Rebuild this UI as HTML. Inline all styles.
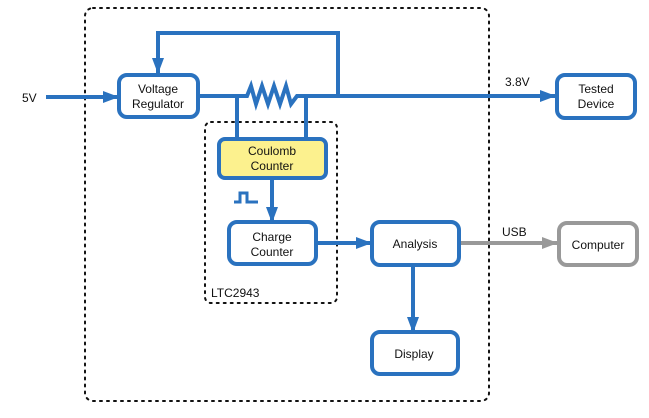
<!DOCTYPE html>
<html><head><style>body{margin:0;background:#fff}svg{display:block}text{font-family:"Liberation Sans",sans-serif;font-size:12px;fill:#111}</style></head><body>
<svg width="649" height="418" viewBox="0 0 649 418" xmlns="http://www.w3.org/2000/svg">
<defs>
<marker id="a" markerWidth="8" markerHeight="8" refX="7" refY="4" orient="auto" markerUnits="userSpaceOnUse"><path d="M0,0 L8,4 L0,8 z" fill="#2a72bf"/></marker>
<marker id="ab" markerWidth="16" markerHeight="12" refX="15" refY="6" orient="auto" markerUnits="userSpaceOnUse"><path d="M0,0 L16,6 L0,12 z" fill="#2a72bf"/></marker>
<marker id="ag" markerWidth="16" markerHeight="12" refX="15" refY="6" orient="auto" markerUnits="userSpaceOnUse"><path d="M0,0 L16,6 L0,12 z" fill="#999"/></marker>
</defs>
<g fill="none" stroke="#111" stroke-width="2" stroke-dasharray="2,5" stroke-linecap="round">
<rect x="85" y="8" width="404" height="393" rx="8"/>
<rect x="205" y="122" width="132" height="181" rx="6"/>
</g>
<g fill="none" stroke="#2a72bf" stroke-width="4">
<line x1="46" y1="97" x2="118" y2="97" marker-end="url(#ab)"/>
<path d="M338,96 V33 H158 V73" marker-end="url(#ab)"/>
<path d="M198,96 H247 L251,86 L256,104 L262,86 L268,104 L274,86 L280,104 L286,86 L291,104 L297,96 H555" marker-end="url(#ab)" stroke-linejoin="miter"/>
<line x1="237" y1="96" x2="237" y2="139"/>
<line x1="306" y1="96" x2="306" y2="139"/>
<line x1="272" y1="178" x2="272" y2="222" marker-end="url(#ab)"/>
<path d="M234,202 H240 V193 H247 V202 H258" stroke-width="3"/>
<line x1="316" y1="243" x2="371" y2="243" marker-end="url(#ab)"/>
<line x1="413" y1="265" x2="413" y2="332" marker-end="url(#ab)"/>
</g>
<line x1="460" y1="243" x2="557" y2="243" stroke="#999" stroke-width="4" marker-end="url(#ag)"/>
<g stroke-width="4">
<rect x="119" y="75" width="79" height="42" rx="8" fill="#fff" stroke="#2a72bf"/>
<rect x="557" y="75" width="78" height="43" rx="8" fill="#fff" stroke="#2a72bf"/>
<rect x="219" y="139" width="107" height="39" rx="6" fill="#fcf18e" stroke="#2a72bf"/>
<rect x="229" y="222" width="87" height="42" rx="8" fill="#fff" stroke="#2a72bf"/>
<rect x="372" y="222" width="87" height="43" rx="8" fill="#fff" stroke="#2a72bf"/>
<rect x="372" y="332" width="86" height="42" rx="8" fill="#fff" stroke="#2a72bf"/>
<rect x="559" y="223" width="78" height="42" rx="8" fill="#fff" stroke="#999"/>
</g>
<g text-anchor="middle">
<text x="158" y="93">Voltage</text><text x="158" y="108">Regulator</text>
<text x="596" y="93">Tested</text><text x="596" y="108">Device</text>
<text x="272" y="155">Coulomb</text><text x="272" y="170">Counter</text>
<text x="272" y="241">Charge</text><text x="272" y="256">Counter</text>
<text x="415" y="248">Analysis</text>
<text x="414" y="358">Display</text>
<text x="598" y="249">Computer</text>
</g>
<text x="22" y="102">5V</text>
<text x="505" y="86">3.8V</text>
<text x="502" y="236">USB</text>
<text x="211" y="297">LTC2943</text>
</svg>
</body></html>
